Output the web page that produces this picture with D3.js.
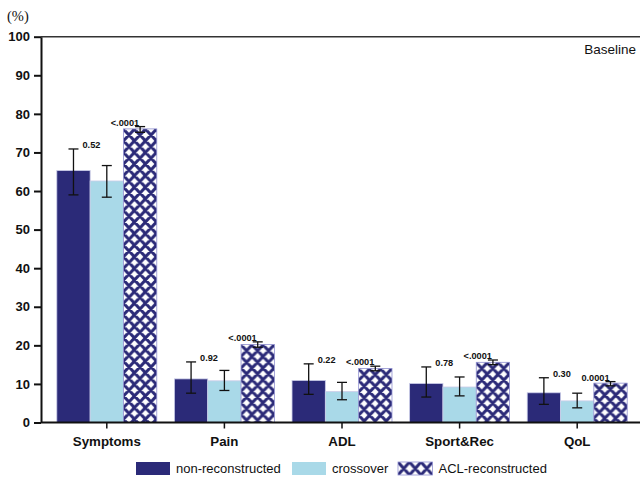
<!DOCTYPE html>
<html>
<head>
<meta charset="utf-8">
<script src="https://cdn.jsdelivr.net/npm/d3@7"></script>
<style>
  html, body { margin: 0; padding: 0; background: #fff; }
  svg { display: block; font-family: "Liberation Sans", Arial, sans-serif; }
</style>
</head>
<body>
<svg id="chart" width="640" height="477"></svg>
<script>
// KOOS subscale scores at baseline, by treatment group
const categories = ["Symptoms", "Pain", "ADL", "Sport&Rec", "QoL"];
const series = ["non-reconstructed", "crossover", "ACL-reconstructed"];

const nonReconstructed = [65.3, 11.3, 10.9, 10.1, 7.7];
const nonReconstructedLo = [59.0, 7.6, 7.3, 6.6, 4.7];
const nonReconstructedHi = [70.9, 15.7, 15.2, 14.4, 11.6];

const crossover = [62.6, 10.8, 8.0, 9.2, 5.6];
const crossoverLo = [58.4, 8.3, 5.9, 6.9, 3.8];
const crossoverHi = [66.6, 13.5, 10.4, 11.8, 7.6];

const aclReconstructed = [76.1, 20.2, 14.0, 15.6, 10.2];
const aclReconstructedLo = [75.2, 19.5, 13.4, 15.0, 9.5];
const aclReconstructedHi = [76.7, 20.9, 14.6, 16.2, 10.6];

// p-values printed next to the bars
const pNonReconstructed = ["0.52", "0.92", "0.22", "0.78", "0.30"];
const pAclReconstructed = ["<.0001", "<.0001", "<.0001", "<.0001", "0.0001"];

const yTicks = [0, 10, 20, 30, 40, 50, 60, 70, 80, 90, 100];

const navy = "#2b2a78";
const lightBlue = "#a9d9e8";

const svg = d3.select("#chart");

const rows = categories.map((c, i) => ({
  category: c,
  values: [
    { key: series[0], v: nonReconstructed[i], lo: nonReconstructedLo[i], hi: nonReconstructedHi[i] },
    { key: series[1], v: crossover[i], lo: crossoverLo[i], hi: crossoverHi[i] },
    { key: series[2], v: aclReconstructed[i], lo: aclReconstructedLo[i], hi: aclReconstructedHi[i] }
  ],
  pNon: pNonReconstructed[i],
  pAcl: pAclReconstructed[i]
}));

const axisX = 41;
const x = d3.scaleBand().domain(categories).range([48, 636])
  .paddingInner(0.15).paddingOuter(0.075);
const x1 = d3.scaleBand().domain(series).range([0, x.bandwidth()]);
const y = d3.scaleLinear().domain([0, 100]).range([422.5, 36.7]);

// cross-hatched fill; each hatched bar gets its own tile origin so the
// diamonds line up with the bar's left and top edges
const defs = svg.append("defs");
function hatch(id, ox, oy, w, h) {
  const p = defs.append("pattern")
    .attr("id", id)
    .attr("patternUnits", "userSpaceOnUse")
    .attr("x", ox).attr("y", oy)
    .attr("width", w).attr("height", h);
  p.append("rect").attr("width", w).attr("height", h).attr("fill", "#fff");
  p.append("path")
    .attr("d", `M0,0L${w},${h}M${w},0L0,${h}` +
      `M-2,${h - 2}L2,${h + 2}M${w - 2},-2L${w + 2},2M-2,2L2,-2M${w - 2},${h + 2}L${w + 2},${h - 2}`)
    .attr("stroke", navy).attr("stroke-width", 3.1).attr("fill", "none");
}
// bar patterns are given in each group's local coordinates
rows.forEach((d, i) => hatch("hatch" + i, x1(series[2]) - 5.5, y(d.values[2].v) - 5.5, 11, 11.6));
hatch("hatchLegend", 398 - 5.75, 462 - 6.5, 11.5, 13);

const fillOf = (d, i) => d.key === "ACL-reconstructed" ? `url(#hatch${i})`
  : (d.key === "crossover" ? lightBlue : navy);

// frame line along the top of the plot
svg.append("line")
  .attr("x1", axisX).attr("x2", 640)
  .attr("y1", y(100)).attr("y2", y(100))
  .attr("stroke", "#333").attr("stroke-width", 1.6);

// bars
const groups = svg.append("g").selectAll("g").data(rows).join("g")
  .attr("transform", d => `translate(${x(d.category)},0)`);

groups.each(function (row, i) {
  d3.select(this).selectAll("rect").data(row.values).join("rect")
    .attr("x", d => x1(d.key))
    .attr("y", d => y(d.v))
    .attr("width", x1.bandwidth())
    .attr("height", d => y(0) - y(d.v))
    .attr("fill", d => fillOf(d, i))
    .attr("stroke", d => d.key === "ACL-reconstructed" ? "#8f8fcf" : "#c9cbe8")
    .attr("stroke-width", 0.8);
});

// error bars
const eb = groups.selectAll("g.err").data(d => d.values).join("g").attr("class", "err")
  .attr("stroke", "#111").attr("stroke-width", 1.3);
const cx = d => x1(d.key) + x1.bandwidth() / 2;
eb.append("line").attr("x1", cx).attr("x2", cx).attr("y1", d => y(d.lo)).attr("y2", d => y(d.hi));
eb.append("line").attr("x1", d => cx(d) - 5).attr("x2", d => cx(d) + 5).attr("y1", d => y(d.hi)).attr("y2", d => y(d.hi));
eb.append("line").attr("x1", d => cx(d) - 5).attr("x2", d => cx(d) + 5).attr("y1", d => y(d.lo)).attr("y2", d => y(d.lo));

// p-value labels
groups.append("text")
  .attr("x", d => cx(d.values[0]) + 9)
  .attr("y", d => y(d.values[0].hi) - 0.5)
  .attr("font-size", 9.2).attr("font-weight", "bold").attr("fill", "#111")
  .text(d => d.pNon);
groups.append("text")
  .attr("x", d => cx(d.values[2]) - 1)
  .attr("y", d => y(d.values[2].hi) - 1)
  .attr("text-anchor", "end")
  .attr("font-size", 9.2).attr("font-weight", "bold").attr("fill", "#111")
  .text(d => d.pAcl);

// y axis
const yAxis = svg.append("g")
  .attr("transform", `translate(${axisX},0)`)
  .call(d3.axisLeft(y).tickValues(yTicks).tickSize(7).tickPadding(4).tickSizeOuter(0));
yAxis.attr("font-family", null);
yAxis.select(".domain").attr("stroke", "#111").attr("stroke-width", 2);
yAxis.selectAll(".tick line").attr("stroke", "#111").attr("stroke-width", 2);
yAxis.selectAll(".tick text")
  .attr("font-size", 13).attr("font-weight", "bold").attr("fill", "#111");
yAxis.attr("font-size", null);

// x axis
const xAxis = svg.append("g")
  .attr("transform", `translate(0,${y(0)})`)
  .call(d3.axisBottom(x).tickSize(6).tickPadding(8).tickSizeOuter(0));
xAxis.attr("font-family", null);
xAxis.select(".domain").attr("d", `M${axisX},0H640`).attr("stroke", "#111").attr("stroke-width", 2);
xAxis.selectAll(".tick line").attr("stroke", "#111").attr("stroke-width", 1.5);
xAxis.selectAll(".tick text")
  .attr("font-size", 13.3).attr("font-weight", "bold").attr("fill", "#111");

// unit label
svg.append("text")
  .attr("x", 7).attr("y", 20.5)
  .style("font-family", "'Liberation Serif', 'Times New Roman', serif")
  .attr("font-size", 14.5).attr("fill", "#111")
  .text("(%)");

// panel label
svg.append("text")
  .attr("x", 636).attr("y", 53.5)
  .attr("text-anchor", "end")
  .attr("font-size", 13.5).attr("fill", "#111")
  .text("Baseline");

// legend
const legendItems = [
  { key: series[0], fill: navy, x: 136, w: 34 },
  { key: series[1], fill: lightBlue, x: 292, w: 34 },
  { key: series[2], fill: "url(#hatchLegend)", x: 398, w: 34.5 }
];
const leg = svg.append("g").selectAll("g").data(legendItems).join("g");
leg.append("rect")
  .attr("x", d => d.x).attr("y", 462).attr("width", d => d.w).attr("height", 13)
  .attr("fill", d => d.fill)
  .attr("stroke", d => d.key === "ACL-reconstructed" ? "#8f8fcf" : "none")
  .attr("stroke-width", 0.8);
leg.append("text")
  .attr("x", d => d.x + d.w + 6).attr("y", 472.5)
  .attr("font-size", 13).attr("fill", "#111")
  .text(d => d.key);
</script>
</body>
</html>
